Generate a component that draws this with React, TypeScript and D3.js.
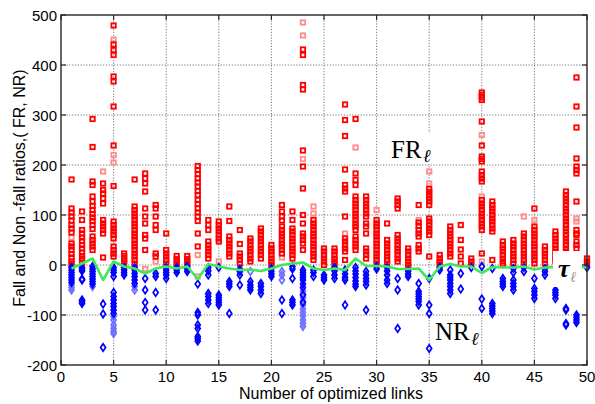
import React from "react";
import * as d3 from "d3";

const xTicks = [0, 5, 10, 15, 20, 25, 30, 35, 40, 45, 50];
const yTicks = [-200, -100, 0, 100, 200, 300, 400, 500];

// FR (fall ratio) values per number of optimized links (1..50)
const frValues: number[][] = [
  [171, 113, 105, 97, 89, 80, 73, 65, 43, 37, 30, 22, 15, 7, 2],
  [107, 90, 70, 63, 55, 48, 40, 33, 25, 18, 12, 5],
  [292, 236, 167, 160, 137, 127, 118, 110, 102, 95, 88, 80, 72, 57, 50, 43, 37, 30],
  [163, 150, 143, 133, 123, 90, 83, 77, 70, 63, 15],
  [479, 441, 430, 420, 377, 367, 317, 239, 158, 87, 80, 73, 67, 60, 53, 37, 30, 23, 17],
  [23, 18, 13, 8, 3],
  [171, 117, 110, 103, 97, 90, 83, 77, 70, 63, 57, 50, 43, 37, 30, 23, 17, 10, 3],
  [183, 173, 163, 147, 113, 97, 83, 60, 53, 30],
  [120, 113, 97, 80, 70, 23, 17],
  [63, 30, 23, 17, 10, 3],
  [18, 12, 6, 1],
  [18, 12, 6, 1],
  [198, 190, 182, 173, 165, 157, 148, 140, 130, 122, 113, 105, 97, 88, 63, 37],
  [90, 80, 70, 47, 40, 33, 27, 20, 13],
  [87, 80, 73, 67, 60, 53, 47],
  [117, 88, 57, 50, 43, 37, 30, 23, 17],
  [70, 42, 23, 17, 10, 3],
  [53, 47, 40, 33, 27, 20, 13, 7],
  [73, 67, 60, 53, 47, 40, 33, 27, 20, 13],
  [40, 33, 27, 20, 13, 7, 0],
  [120, 107, 97, 89, 77, 70, 63, 57, 50, 43, 37, 30, 23],
  [107, 90, 73, 67, 60, 53, 47, 40, 33, 27, 20, 13],
  [431, 420, 360, 351, 229, 197, 153, 100, 83, 63, 57, 50, 43, 30],
  [90, 83, 77, 70, 63, 57, 50, 43, 37, 30, 23, 17, 10],
  [33, 27, 20, 13, 7, 0],
  [33, 27, 20, 13, 7, 2],
  [321, 290, 258, 191, 160, 153, 147, 97, 53, 47, 40, 33, 27, 10],
  [292, 183, 170, 160, 137, 130, 123, 117, 110, 103, 97, 90, 83, 77, 70, 57, 50, 43, 37, 30],
  [137, 130, 123, 117, 110, 103, 97, 83, 77, 63, 33, 27, 20, 13],
  [90, 83, 77, 70, 63, 57, 50, 43, 37, 30, 23, 17, 10, 3],
  [83, 50, 43, 37, 30, 23, 17, 10, 3],
  [133, 127, 120, 113, 60, 53, 47, 40, 33, 27, 20, 13, 7],
  [33, 27, 20, 13, 7, 0, -5],
  [120, 85, 78, 70, 63, 57, 40, 33, 27],
  [152, 146, 140, 133, 127, 120, 93, 87, 80, 73, 67, 60, 17],
  [20, 13, 7, 1],
  [77, 70, 63, 57, 50, 43, 37, 30, 23, 17],
  [80, 50, 31, 17, 3],
  [13, 7, 1],
  [345, 340, 335, 330, 287, 239, 217, 212, 207, 187, 180, 173, 167, 130, 123, 117, 110, 103, 97, 90, 83, 77, 70, 23],
  [127, 120, 113, 107, 100, 93, 87, 80, 73, 67, 10],
  [47, 40, 33, 27, 20, 13, 7, 2],
  [50, 43, 37, 30, 23, 17, 10, 3],
  [63, 57, 50, 43, 37, 30, 23, 17, 10, 3],
  [113, 77, 70, 63, 57, 50, 43, 37, 30, 23, 17, 10, 3],
  [37, 30, 23, 17, 10, 3],
  [67, 60, 53, 47, 40, 33, 27, 20, 13, 7],
  [147, 140, 133, 127, 120, 113, 107, 100, 93, 87, 80, 73, 67, 60, 53, 47, 40, 33, 27, 20, 13, 7],
  [375, 317, 275, 213, 197, 190, 183, 127, 70, 63, 60, 47, 40, 33],
  [13, 7, 1],
];

// faint FR markers
const frLight: number[][] = [
  [55], [], [], [187], [451, 220, 205], [], [], [-8], [7], [], [], [], [20, -23], [], [7], [], [], [], [], [],
  [15], [], [485, 459, 212], [117, 103], [], [], [63], [235], [], [110], [], [], [], [90], [187, 163], [], [], [], [],
  [260, 137, 7], [], [], [], [97], [90], [], [], [], [93, 87], [],
];

// NR (non-fall ratio) values
const nrValues: number[][] = [
  [-5, -10, -15, -20, -25, -30, -35],
  [-5, -8, -12, -28, -30, -70, -73, -77],
  [-3, -8, -13, -18, -23, -28, -33, -38],
  [-78, -98, -165],
  [-5, -10, -15, -23, -55, -63, -70, -77, -83, -90, -97],
  [-5, -10, -15, -20],
  [-5, -10, -17, -23, -30, -37],
  [-27, -50, -75, -90],
  [-17, -23, -55, -90],
  [-5, -10, -15, -20, -27],
  [-5, -10, -15],
  [-3, -8, -13],
  [-38, -95, -100, -120, -127, -143, -147, -152],
  [-5, -12, -20, -57, -63, -70, -77],
  [-5, -60, -65, -70, -75, -80],
  [-33, -38, -43, -97],
  [-8, -13, -20, -40],
  [-33, -40, -45, -50],
  [-37, -43, -50, -57],
  [-7, -13, -18, -23],
  [-70, -97],
  [-3, -8, -27, -70, -75, -80],
  [-10, -15, -20, -25, -30, -38, -45, -60, -75],
  [-10, -15, -23],
  [-20, -25, -30],
  [-5, -12, -20, -27],
  [-10, -18, -25, -30, -80],
  [-5, -12, -18, -25, -32, -38, -43],
  [-13, -20, -27, -33, -40, -90],
  [-3, -8],
  [-5, -12, -20, -30, -37],
  [-27, -50, -127],
  [-12, -18, -23],
  [-37, -53, -58, -63, -68, -73, -80],
  [-27, -80, -97, -167],
  [-5, -10],
  [-10, -20, -25, -30, -37, -43, -50, -57],
  [-17, -48],
  [-5],
  [-3, -68, -87],
  [-7, -77, -82, -87, -92, -97],
  [-27, -33, -38, -43],
  [-7, -15, -30, -37, -43, -50],
  [-5, -13],
  [-27, -47, -53, -60, -67],
  [-7, -13, -20],
  [-50, -55, -60, -67],
  [-87, -90, -117, -120],
  [-100, -105, -110, -115],
  [-5],
];

// faint NR markers
const nrLight: number[][] = [
  [-40, -45, -50], [], [-43], [], [-103, -110, -120, -127, -133, -137], [], [-43, -50], [], [], [], [], [], [], [], [], [], [],
  [-13], [], [], [-13, -20, -30], [], [-52, -58, -65, -72, -80, -88, -95, -102, -110, -117, -123], [], [], [], [], [], [], [],
  [], [], [], [], [], [], [], [], [], [], [], [], [], [], [], [], [], [], [], [],
];

// threshold tau per number of links
const tauValues = [
  -7, 3, 13, -30, 7, -3, -7, -17, -7, -3, -7, -3, -28, 2, -3, -7, -10, -9, -12, -7,
  0, 3, 5, -7, -10, -7, -10, 13, -2, -2, -3, -8, -8, -7, -30, -3, 2, -3, -3, -16,
  -4, -5, -5, -3, -9, -5, -4, -4, -3, -5,
];

const W = 595;
const H = 404;
const L = 61, R = 587, T = 15, B = 365;

export default function App() {
  const x = d3.scaleLinear().domain([0, 50]).range([L, R]);
  const y = d3.scaleLinear().domain([-200, 500]).range([B, T]);
  const tauLine = d3
    .line<number>()
    .x((_, i) => x(i + 1))
    .y((d) => y(d));

  const sq = 4.4;
  const diamond = "M0,-3.8L2.5,0L0,3.8L-2.5,0Z";
  const font = "'Liberation Sans', Arial, sans-serif";
  const serif = "'Liberation Serif', 'Times New Roman', serif";

  const squares = (vals: number[][], color: string, key: string) =>
    vals.flatMap((col, i) =>
      col.map((v, j) => (
        <rect
          key={`${key}-${i}-${j}`}
          x={x(i + 1) - sq / 2}
          y={y(v) - sq / 2}
          width={sq}
          height={sq}
          fill="none"
          stroke={color}
          strokeWidth={1.8}
        />
      ))
    );
  const diamonds = (vals: number[][], color: string, key: string) =>
    vals.flatMap((col, i) =>
      col.map((v, j) => (
        <path
          key={`${key}-${i}-${j}`}
          d={diamond}
          transform={`translate(${x(i + 1)},${y(v)})`}
          fill="none"
          stroke={color}
          strokeWidth={1.7}
        />
      ))
    );

  return (
    <svg width={W} height={H} style={{ position: "absolute", left: 0, top: 0, background: "#fff" }}>
      <rect width={W} height={H} fill="#fff" />
      {/* grid */}
      {xTicks.slice(1, -1).map((t) => (
        <line key={`gx${t}`} x1={x(t)} x2={x(t)} y1={T} y2={B} stroke="#555" strokeWidth={0.8} strokeDasharray="1.2,1.6" />
      ))}
      {yTicks.slice(1, -1).map((t) => (
        <line key={`gy${t}`} x1={L} x2={R} y1={y(t)} y2={y(t)} stroke="#555" strokeWidth={0.8} strokeDasharray="1.2,1.6" />
      ))}
      {/* markers */}
      {squares(frLight, "#ff8c8c", "frl")}
      {squares(frValues, "#ff0000", "fr")}
      {diamonds(nrLight, "#6f6fff", "nrl")}
      {diamonds(nrValues, "#0000ff", "nr")}
      <path d={tauLine(tauValues) || ""} fill="none" stroke="#3ee85a" strokeWidth={2.6} strokeLinejoin="round" />
      {/* label boxes */}
      <rect x={388} y={133} width={50} height={31} fill="#fff" />
      <text x={391} y={158} fontFamily={serif} fontSize={25}>FR</text>
      <text x={423} y={162} fontFamily={serif} fontSize={18} fontStyle="italic">ℓ</text>
      <rect x={433} y={319} width={48} height={36} fill="#fff" />
      <text x={435} y={340} fontFamily={serif} fontSize={25}>NR</text>
      <text x={471} y={345} fontFamily={serif} fontSize={18} fontStyle="italic">ℓ</text>
      <rect x={553} y={251} width={29} height={36} fill="#fff" />
      <text x={558} y={277} fontFamily={serif} fontSize={26} fontStyle="italic" fontWeight="bold">τ</text>
      <text x={570} y={282} fontFamily={serif} fontSize={15} fontStyle="italic" fill="#999">ℓ</text>
      {/* axes box */}
      <rect x={L} y={T} width={R - L} height={B - T} fill="none" stroke="#262626" strokeWidth={1.4} />
      {xTicks.map((t) => (
        <g key={`tx${t}`}>
          <line x1={x(t)} x2={x(t)} y1={B} y2={B - 5} stroke="#262626" strokeWidth={1.2} />
          <line x1={x(t)} x2={x(t)} y1={T} y2={T + 5} stroke="#262626" strokeWidth={1.2} />
          <text x={x(t)} y={382} textAnchor="middle" fontFamily={font} fontSize={15}>{t}</text>
        </g>
      ))}
      {yTicks.map((t) => (
        <g key={`ty${t}`}>
          <line x1={L} x2={L + 5} y1={y(t)} y2={y(t)} stroke="#262626" strokeWidth={1.2} />
          <line x1={R} x2={R - 5} y1={y(t)} y2={y(t)} stroke="#262626" strokeWidth={1.2} />
          <text x={57} y={y(t) + 5.5} textAnchor="end" fontFamily={font} fontSize={15}>{t}</text>
        </g>
      ))}
      <text x={331} y={399} textAnchor="middle" fontFamily={font} fontSize={16}>Number of optimized links</text>
      <text transform="translate(25,188) rotate(-90)" textAnchor="middle" fontFamily={font} fontSize={16}>
        Fall and Non -fall ratios,( FR, NR)
      </text>
    </svg>
  );
}
